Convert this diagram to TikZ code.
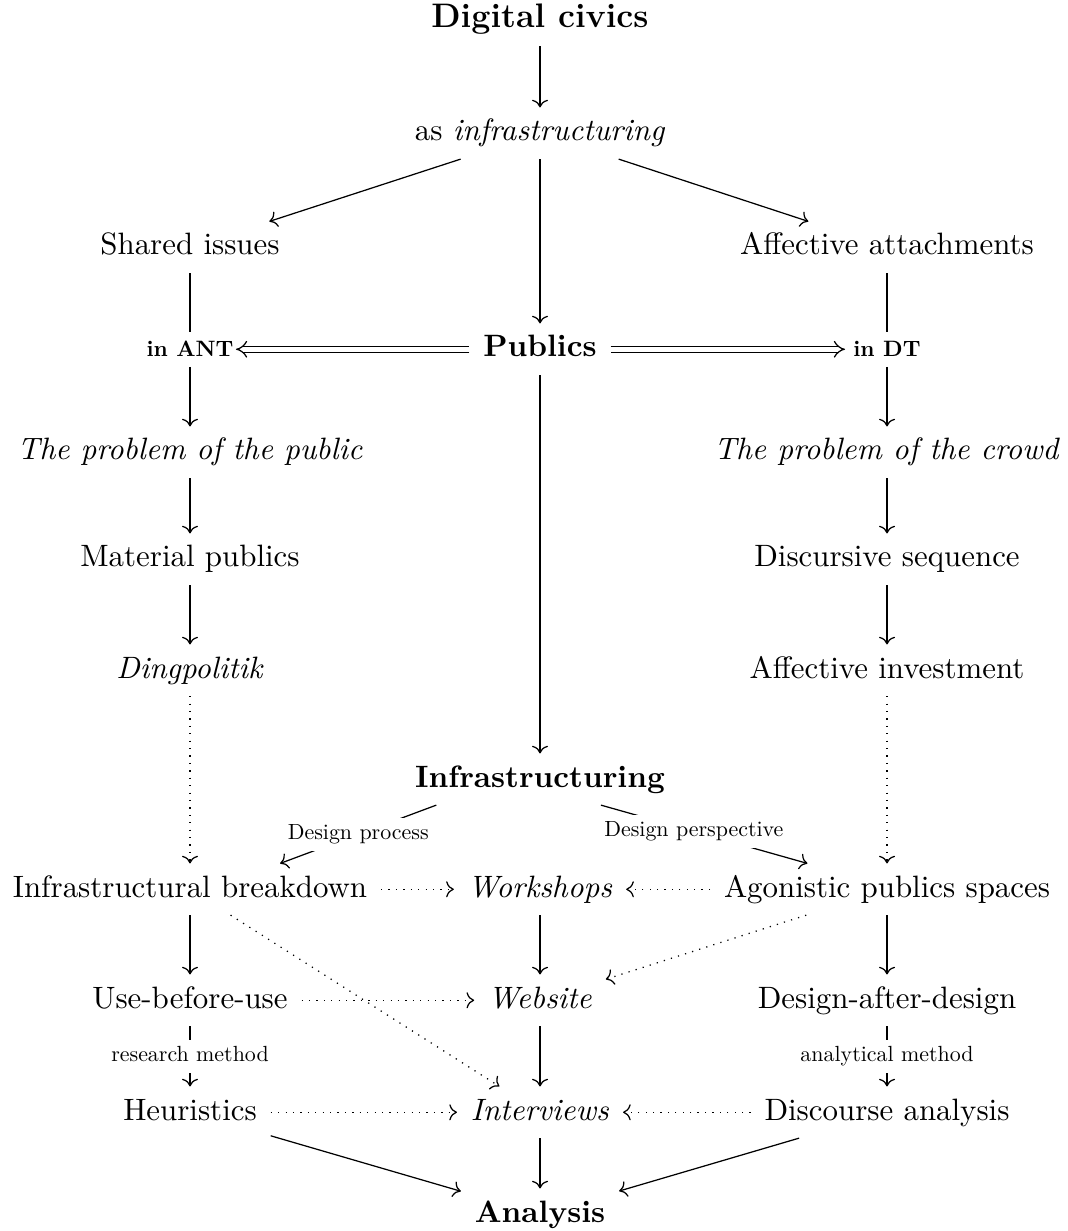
\documentclass[tikz,border=0pt]{standalone}
\usetikzlibrary{arrows.meta}
\newcommand\smalllabel[1]{\scalebox{0.71}{#1}}
\newcommand\smalltag[1]{\scalebox{0.72}{\bfseries #1}}
\begin{document}
\begin{tikzpicture}[x=0.3236pt, y=-0.3236pt,
  cell/.style={anchor=base, inner xsep=1ex, inner ysep=0.85ex, text height=7pt, text depth=2pt},
  hd/.style={cell, font=\bfseries},
  tag/.style={anchor=base, inner xsep=0.6pt, inner ysep=3pt, text height=5pt, text depth=0pt},
  ln/.style={line width=0.4pt},
  arr/.style={ln, -{Computer Modern Rightarrow}},
  dot/.style={arr, dotted},
  dbl/.style={ln, double, double distance=1.5pt, -{Implies}},
  lbl/.style={fill=white, inner sep=2pt, anchor=center, text height=5pt, text depth=1.5pt}]
\useasboundingbox (0,0) rectangle (1067,1231);

% left, middle and right columns
\def\cl{190}\def\cm{540}\def\cr{887}

\node[hd, font=\fontsize{11}{13}\selectfont\bfseries] (dc) at (\cm,28) {Digital civics};
\node[cell] (asinf) at (\cm,141) {as \textit{infrastructuring}};
\node[cell] (shared) at (\cl,255) {Shared issues};
\node[cell] (affatt) at (\cr,255) {Affective attachments};
\node[tag] (ant) at (\cl,357) {\smalltag{in ANT}};
\node[hd] (pub) at (\cm,357) {Publics};
\node[tag, inner xsep=2.5pt] (dt) at (\cr,357) {\smalltag{in DT}};
\node[cell] (ppub) at (\cl,460) {\textit{The problem of the public}};
\node[cell] (pcrowd) at (\cr,460) {\textit{The problem of the crowd}};
\node[cell] (matpub) at (\cl,567) {Material publics};
\node[cell] (discseq) at (\cr,567) {Discursive sequence};
\node[cell] (ding) at (\cl,678) {\textit{Dingpolitik}};
\node[cell] (affinv) at (\cr,678) {Affective investment};
\node[hd] (infra) at (\cm,787) {Infrastructuring};
\node[cell] (break) at (\cl,897) {Infrastructural breakdown};
\node[cell] (work) at (\cm,897) {\textit{Workshops}};
\node[cell] (agon) at (\cr,897) {Agonistic publics spaces};
\node[cell] (ubu) at (\cl,1008) {Use-before-use};
\node[cell] (web) at (\cm,1008) {\textit{Website}};
\node[cell] (dad) at (\cr,1008) {Design-after-design};
\node[cell] (heur) at (\cl,1120) {Heuristics};
\node[cell] (inter) at (\cm,1120) {\textit{Interviews}};
\node[cell] (disc) at (\cr,1120) {Discourse analysis};
\node[hd] (anal) at (\cm,1222) {Analysis};

% top part
\draw[arr] (dc) -- (asinf);
\draw[arr] (asinf) -- (shared);
\draw[arr] (asinf) -- (affatt);
\draw[arr] (asinf) -- (pub);
\draw[ln] (shared) -- (ant);
\draw[ln] (affatt) -- (dt);
\draw[dbl] (pub) -- (ant);
\draw[dbl] (pub) -- (dt);
\draw[arr] (ant) -- (ppub);
\draw[arr] (dt) -- (pcrowd);
\draw[arr] (ppub) -- (matpub);
\draw[arr] (matpub) -- (ding);
\draw[arr] (pcrowd) -- (discseq);
\draw[arr] (discseq) -- (affinv);
\draw[arr] (pub) -- (infra);
\draw[dot] (ding) -- (break);
\draw[dot] (affinv) -- (agon);

% design branch
\draw[arr] (infra.194.6) -- node[lbl] {\smalllabel{Design process}} (break.16.5);
\draw[arr] (infra.337.9) -- node[lbl, pos=0.45] {\smalllabel{Design perspective}} (agon.162.9);

% methods
\draw[dot] (break) -- (work);
\draw[dot] (agon) -- (work);
\draw[arr] (break) -- (ubu);
\draw[arr] (work) -- (web);
\draw[arr] (agon) -- (dad);
\draw[dot] (ubu) -- (web);
\draw[dot] (agon) -- (web);
\draw[dot] (break) -- (inter);
\draw[arr] (ubu) -- node[lbl] {\smalllabel{research method}} (heur);
\draw[arr] (dad) -- node[lbl] {\smalllabel{analytical method}} (disc);
\draw[arr] (web) -- (inter);
\draw[dot] (heur) -- (inter);
\draw[dot] (disc) -- (inter);
\draw[arr] (heur) -- (anal);
\draw[arr] (inter) -- (anal);
\draw[arr] (disc) -- (anal);
\end{tikzpicture}
\end{document}
